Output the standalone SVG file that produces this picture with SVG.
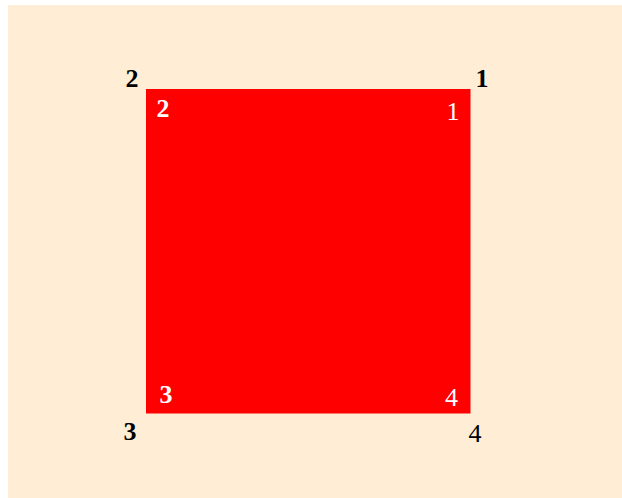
<svg xmlns="http://www.w3.org/2000/svg" width="622" height="498" viewBox="0 0 622 498">
<style>
text{font-family:"Liberation Serif","DejaVu Serif",serif;font-size:26px;text-anchor:middle}
.b{font-weight:bold}
.o{fill:#000}
.i{fill:#fff}
</style>
<rect x="8" y="5" width="614" height="493" fill="#ffeed5"/>
<g id="square">
<rect x="146" y="89" width="324.5" height="324.5" fill="#ff0000"/>
</g>
<g id="corner1">
<text class="o b" x="482" y="87">1</text>
<text class="i" x="453" y="120">1</text>
</g>
<g id="corner2">
<text class="o b" x="132" y="87">2</text>
<text class="i b" x="163" y="117">2</text>
</g>
<g id="corner3">
<text class="o b" x="130" y="440">3</text>
<text class="i b" x="166" y="403">3</text>
</g>
<g id="corner4">
<text class="o" x="475" y="442">4</text>
<text class="i" x="451.5" y="406">4</text>
</g>
<g id="connectors"/>
</svg>
